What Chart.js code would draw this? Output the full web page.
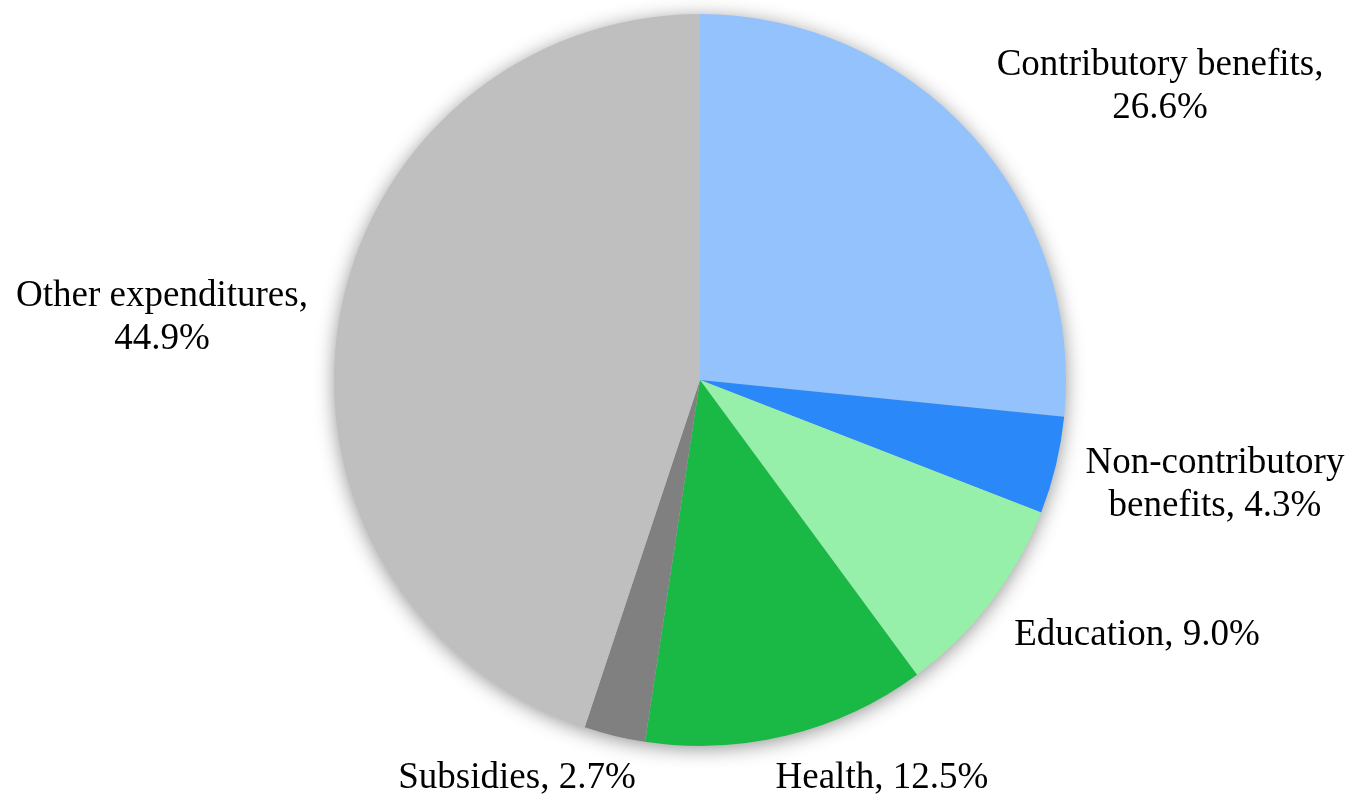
<!DOCTYPE html>
<html>
<head>
<meta charset="utf-8">
<script src="https://cdn.jsdelivr.net/npm/chart.js@4.4.0/dist/chart.umd.min.js"></script>
<style>
html,body{margin:0;padding:0;background:#fff;}
#wrap{width:1349px;height:794px;position:relative;}
</style>
</head>
<body>
<div id="wrap"><canvas id="c" width="1349" height="794"></canvas></div>
<script>
const categories = ["Contributory benefits", "Non-contributory benefits", "Education", "Health", "Subsidies", "Other expenditures"];
const values = [26.6, 4.3, 9.0, 12.5, 2.7, 44.9];
const colors = ["#93C2FC", "#2A88F8", "#96F0AA", "#1AB845", "#808080", "#BFBFBF"];
const labelLines = [
  ["Contributory benefits,", "26.6%"],
  ["Non-contributory", "benefits, 4.3%"],
  ["Education, 9.0%"],
  ["Health, 12.5%"],
  ["Subsidies, 2.7%"],
  ["Other expenditures,", "44.9%"]
];
// label centre offsets relative to pie centre, in units of radius
const labelOffsets = [[1.257, -0.801], [1.407, 0.287], [1.194, 0.697], [0.497, 1.087], [-0.5, 1.087], [-1.47, -0.170]];

const shadowPlugin = {
  id: 'shadow',
  beforeDatasetsDraw(chart) {
    const arc = chart.getDatasetMeta(0).data[0];
    if (!arc) return;
    const ctx = chart.ctx;
    ctx.save();
    ctx.shadowColor = 'rgba(0,0,0,0.45)';
    ctx.shadowBlur = 20;
    ctx.shadowOffsetX = 0;
    ctx.shadowOffsetY = 3;
    ctx.fillStyle = '#BFBFBF';
    ctx.beginPath();
    ctx.arc(arc.x, arc.y, arc.outerRadius - 1, 0, Math.PI * 2);
    ctx.fill();
    ctx.restore();
  }
};

const labelPlugin = {
  id: 'outLabels',
  afterDatasetsDraw(chart) {
    const meta = chart.getDatasetMeta(0);
    const ctx = chart.ctx;
    ctx.save();
    ctx.font = '37px "Liberation Serif", "Times New Roman", serif';
    ctx.fillStyle = '#000';
    ctx.textAlign = 'center';
    ctx.textBaseline = 'middle';
    const lh = 43;
    meta.data.forEach((arc, i) => {
      const r = arc.outerRadius;
      const cx = arc.x + labelOffsets[i][0] * r;
      const cy = arc.y + labelOffsets[i][1] * r;
      const lines = labelLines[i];
      const y0 = cy - (lines.length - 1) * lh / 2;
      lines.forEach((t, k) => ctx.fillText(t, cx, y0 + k * lh));
    });
    ctx.restore();
  }
};

new Chart(document.getElementById('c'), {
  type: 'pie',
  data: {
    labels: categories,
    datasets: [{
      data: values,
      backgroundColor: colors,
      borderWidth: 0
    }]
  },
  options: {
    responsive: false,
    animation: false,
    layout: { padding: { left: 100, right: 49, top: 14, bottom: 48 } },
    plugins: { legend: { display: false }, tooltip: { enabled: false } }
  },
  plugins: [shadowPlugin, labelPlugin]
});
</script>
</body>
</html>
